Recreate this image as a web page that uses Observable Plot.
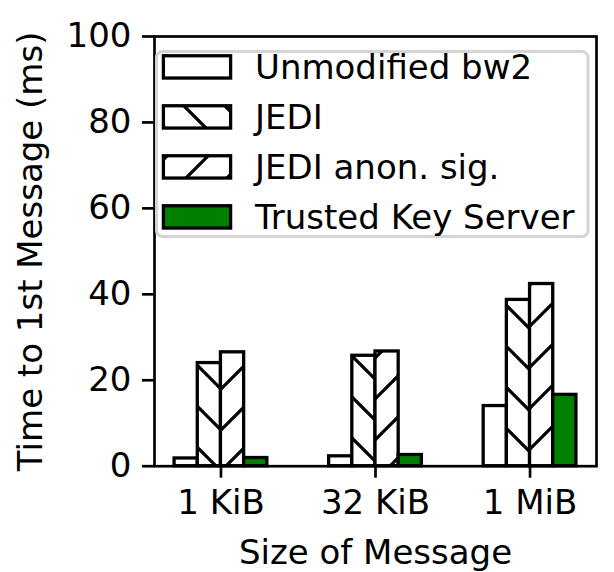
<!DOCTYPE html>
<html><head><meta charset="utf-8">
<script src="https://cdn.jsdelivr.net/npm/d3@7"></script>
<script src="https://cdn.jsdelivr.net/npm/@observablehq/plot@0.6"></script>
<style>
html,body{margin:0;padding:0;background:#fff;}
#chart{position:relative;width:614px;height:572px;}
#chart svg{display:block;}
</style></head><body><div id="chart"></div>
<script>
const categories = ["1 KiB", "32 KiB", "1 MiB"];
const seriesNames = ["Unmodified bw2", "JEDI", "JEDI anon. sig.", "Trusted Key Server"];
const unmodified = [1.8, 2.3, 14.0];
const jedi = [24.0, 25.7, 38.7];
const jediAnon = [26.5, 26.7, 42.4];
const trustedKeyServer = [1.9, 2.6, 16.6];
const yTicks = [0, 20, 40, 60, 80, 100];
const xLabel = "Size of Message";
const yLabel = "Time to 1st Message (ms)";

const seriesValues = [unmodified, jedi, jediAnon, trustedKeyServer];
const fills = ["white", "url(#hatch-back)", "url(#hatch-fwd)", "#008000"];
const barW = 0.15;
const rows = [];
seriesValues.forEach((vals, s) => vals.forEach((v, i) => {
  const c = i + (s - 1.5) * barW;
  rows.push({s, cat: categories[i], x1: c - barW / 2, x2: c + barW / 2, y: v});
}));

const FS = 34;
const plot = Plot.plot({
  width: 614, height: 572,
  marginLeft: 154, marginRight: 18, marginTop: 36, marginBottom: 106.3,
  style: {fontFamily: "DejaVu Sans", fontSize: FS + "px", background: "white", color: "black", overflow: "visible"},
  x: {type: "linear", domain: [-0.43, 2.43]},
  y: {domain: [0, 100]},
  marks: [
    ...seriesNames.map((name, s) => Plot.rectY(rows.filter(r => r.s === s), {
      x1: "x1", x2: "x2", y1: 0, y2: "y", fill: fills[s], stroke: "black", strokeWidth: 3.3
    })),
    Plot.frame({stroke: "black", strokeWidth: 2.7}),
    Plot.axisY({ticks: yTicks, tickSize: 12, tickPadding: 11, strokeWidth: 2.7, label: null, tickFormat: d => String(d)}),
    Plot.axisX({ticks: [0, 1, 2], tickFormat: i => categories[i], tickSize: 12, tickPadding: 12, strokeWidth: 2.7, label: null}),
    Plot.text([xLabel], {text: d => d, frameAnchor: "bottom", dy: 73.2, lineAnchor: "top", fontSize: FS}),
    Plot.text([yLabel], {text: d => d, frameAnchor: "left", rotate: -90, dx: -136.6, lineAnchor: "top", textAnchor: "middle", fontSize: FS})
  ]
});

// hatch patterns
const svg = d3.select(plot);
const defs = svg.insert("defs", ":first-child");
const P = 41;
function addPattern(id, pathD) {
  const p = defs.append("pattern").attr("id", id).attr("patternUnits", "userSpaceOnUse")
    .attr("x", 0).attr("y", 0).attr("width", P).attr("height", P);
  p.append("rect").attr("width", P).attr("height", P).attr("fill", "white");
  p.append("path").attr("d", pathD).attr("stroke", "black").attr("stroke-width", 3.3).attr("fill", "none");
}
let back = "", fwd = "";
for (let k = -2; k <= 2; k++) {
  back += `M${-P},${-P + 4 + P * k}L${2 * P},${2 * P + 4 + P * k}`;
  fwd += `M${-P},${P + 36 + P * k}L${2 * P},${-2 * P + 36 + P * k}`;
}
addPattern("hatch-back", back);
addPattern("hatch-fwd", fwd);

// legend
const lg = svg.append("g").attr("class", "legend")
  .attr("text-anchor", "start").attr("font-family", "DejaVu Sans").attr("font-size", FS);
lg.append("rect").attr("x", 156.5).attr("y", 51.5).attr("width", 431.5).attr("height", 185)
  .attr("rx", 6).attr("fill", "white").attr("fill-opacity", 0.8).attr("stroke", "#d4d4d4").attr("stroke-width", 3);
seriesNames.forEach((name, i) => {
  const cy = 66.9 + 50 * i;
  lg.append("rect").attr("x", 163.4).attr("y", cy - 11.15).attr("width", 67.2).attr("height", 22.3)
    .attr("fill", fills[i]).attr("stroke", "black").attr("stroke-width", 3.3);
  lg.append("text").attr("x", 255).attr("y", cy + 12.4).attr("text-anchor", "start")
    .attr("font-size", FS).attr("fill", "black").text(name);
});

document.getElementById("chart").appendChild(plot);
</script></body></html>
